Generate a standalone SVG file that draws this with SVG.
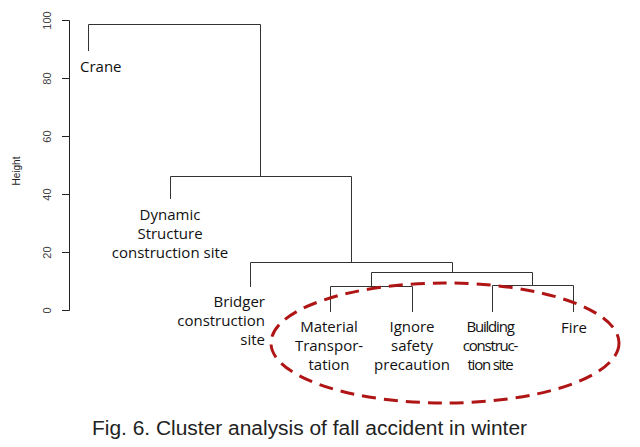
<svg xmlns="http://www.w3.org/2000/svg" width="640" height="447" viewBox="0 0 640 447">
<style>
.ax{stroke:#222;stroke-width:1;fill:none}
.tk{font-family:"Liberation Sans",Arial,sans-serif;font-size:11px;fill:#444;text-anchor:middle}
.ln{stroke:#333;stroke-width:1;fill:none}
.lb{font-family:"Open Sans","Noto Sans",sans-serif;font-size:15px;fill:#111}
.c{text-anchor:middle}
.r{text-anchor:end}
</style>
<rect width="640" height="447" fill="#fff"/>
<g id="axis">
<path class="ax" d="M69.5 20.5V310.5M62 20.5H69.5M62 78.5H69.5M62 136.5H69.5M62 194.5H69.5M62 252.5H69.5M62 310.5H69.5"/>
<text class="tk" transform="translate(50.5 20.5) rotate(-90)">100</text>
<text class="tk" transform="translate(50.5 78.5) rotate(-90)">80</text>
<text class="tk" transform="translate(50.5 136.5) rotate(-90)">60</text>
<text class="tk" transform="translate(50.5 194.5) rotate(-90)">40</text>
<text class="tk" transform="translate(50.5 252.5) rotate(-90)">20</text>
<text class="tk" transform="translate(50.5 310.5) rotate(-90)">0</text>
<text class="tk" transform="translate(20 171) rotate(-90)" style="font-size:10px;fill:#222">Height</text>
</g>
<g id="connectors">
<path class="ln" d="M88.5 51V24.5H260.5V176.5"/>
<path class="ln" d="M170.5 199V176.5H351.5V262.5"/>
<path class="ln" d="M250.5 287V262.5H452.5V272"/>
<path class="ln" d="M371.5 286V272.5H532.5V286"/>
<path class="ln" d="M330.5 312V286.5H412.5V312"/>
<path class="ln" d="M492.5 312V285.5H573.5V312"/>
</g>
<g id="crane"><text class="lb" x="80" y="72">Crane</text></g>
<g id="dynamic"><text class="lb c" x="170" y="220">Dynamic</text><text class="lb c" x="170" y="239">Structure</text><text class="lb c" x="170" y="258">construction site</text></g>
<g id="bridger"><text class="lb r" x="265" y="307">Bridger</text><text class="lb r" x="265" y="326">construction</text><text class="lb r" x="265" y="345">site</text></g>
<g id="material"><text class="lb c" x="329" y="332">Material</text><text class="lb c" x="329" y="351">Transpor-</text><text class="lb c" x="329" y="370">tation</text></g>
<g id="ignore"><text class="lb c" x="412" y="332">Ignore</text><text class="lb c" x="412" y="351">safety</text><text class="lb c" x="412" y="370">precaution</text></g>
<g id="building" style="letter-spacing:-1.2px"><text class="lb c" x="490" y="332">Building</text><text class="lb c" x="490" y="351">construc-</text><text class="lb c" x="490" y="370">tion site</text></g>
<g id="fire"><text class="lb c" x="574" y="333">Fire</text></g>
<g id="highlight"><ellipse cx="445" cy="343" rx="174" ry="60" fill="none" stroke="#b01515" stroke-width="3" stroke-dasharray="14 8"/></g>
<g id="caption"><text x="92" y="435" font-family="Liberation Sans,Arial,sans-serif" font-size="20" fill="#222" textLength="435" lengthAdjust="spacingAndGlyphs">Fig. 6. Cluster analysis of fall accident in winter</text></g>
</svg>
